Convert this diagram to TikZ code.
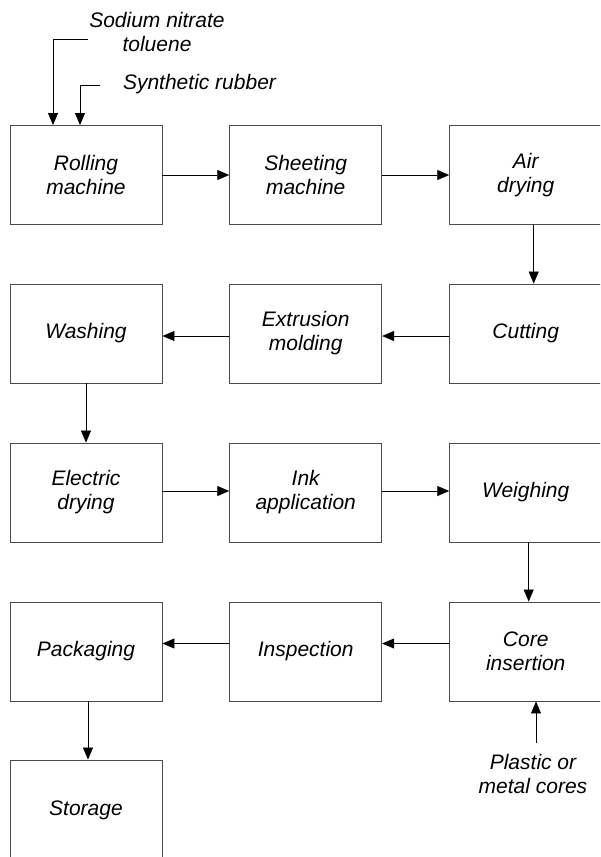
\documentclass[tikz,border=0pt]{standalone}
\usepackage{fontspec}
\setmainfont{Liberation Sans}
\usetikzlibrary{arrows.meta}
\begin{document}
\begin{tikzpicture}[x=1pt,y=-1pt,
  box/.style={draw=black!70,line width=0.9pt,minimum width=152pt,minimum height=99pt,inner sep=0pt,align=center,font=\fontsize{21}{24}\selectfont\itshape},
  lbl/.style={align=center,inner sep=0pt,font=\fontsize{21}{24}\selectfont\itshape},
  arr/.style={draw=black,line width=0.8pt,-{Triangle[length=12pt,width=10pt]}}]
\useasboundingbox (0,0) rectangle (600,857);
\clip (0,0) rectangle (600,857);
% row 1
\node[box] (roll) at (86,175) {Rolling\\machine};
\node[box] (sheet) at (305.7,175) {Sheeting\\machine};
\node[box] (air) at (525.7,175) {Air\\drying};
% row 2
\node[box] (wash) at (86,333.5) {Washing};
\node[box] (extr) at (305.7,333.5) {Extrusion\\molding};
\node[box] (cut) at (525.7,333.5) {Cutting};
% row 3
\node[box] (elec) at (86,492.5) {Electric\\drying};
\node[box] (ink) at (305.7,492.5) {Ink\\application};
\node[box] (weigh) at (525.7,492.5) {Weighing};
% row 4
\node[box] (pack) at (86,651.5) {Packaging};
\node[box] (insp) at (305.7,651.5) {Inspection};
\node[box] (core) at (525.7,651.5) {Core\\insertion};
% row 5
\node[box,minimum height=100pt] (stor) at (86,810) {Storage};
% input labels
\node[lbl] (sod) at (157,32) {Sodium nitrate\\toluene};
\node[lbl] (syn) at (199.5,84) {Synthetic rubber};
\node[lbl] (plas) at (533,774) {Plastic or\\metal cores};
\coordinate (s1) at (88,39.5);
\coordinate (s2) at (100,85);
\coordinate (p1) at (536,743);
% connectors
\draw[arr] (s1) -| ([xshift=-33pt]roll.north);
\draw[arr] (s2) -| ([xshift=-6pt]roll.north);
\draw[arr] (roll) -- (sheet);
\draw[arr] (sheet) -- (air);
\draw[arr] ([xshift=8pt]air.south) -- ([xshift=8pt]cut.north);
\draw[arr] ([yshift=-2.5pt]cut.west) -- ([yshift=-2.5pt]extr.east);
\draw[arr] ([yshift=-2.5pt]extr.west) -- ([yshift=-2.5pt]wash.east);
\draw[arr] (wash.south) -- (elec.north);
\draw[arr] ([yshift=1.5pt]elec.east) -- ([yshift=1.5pt]ink.west);
\draw[arr] ([yshift=1.5pt]ink.east) -- ([yshift=1.5pt]weigh.west);
\draw[arr] ([xshift=3pt]weigh.south) -- ([xshift=3pt]core.north);
\draw[arr] ([yshift=8pt]core.west) -- ([yshift=8pt]insp.east);
\draw[arr] ([yshift=8pt]insp.west) -- ([yshift=8pt]pack.east);
\draw[arr] ([xshift=2pt]pack.south) -- ([xshift=2pt]stor.north);
\draw[arr] (p1) -- (p1 |- core.south);
\end{tikzpicture}
\end{document}
